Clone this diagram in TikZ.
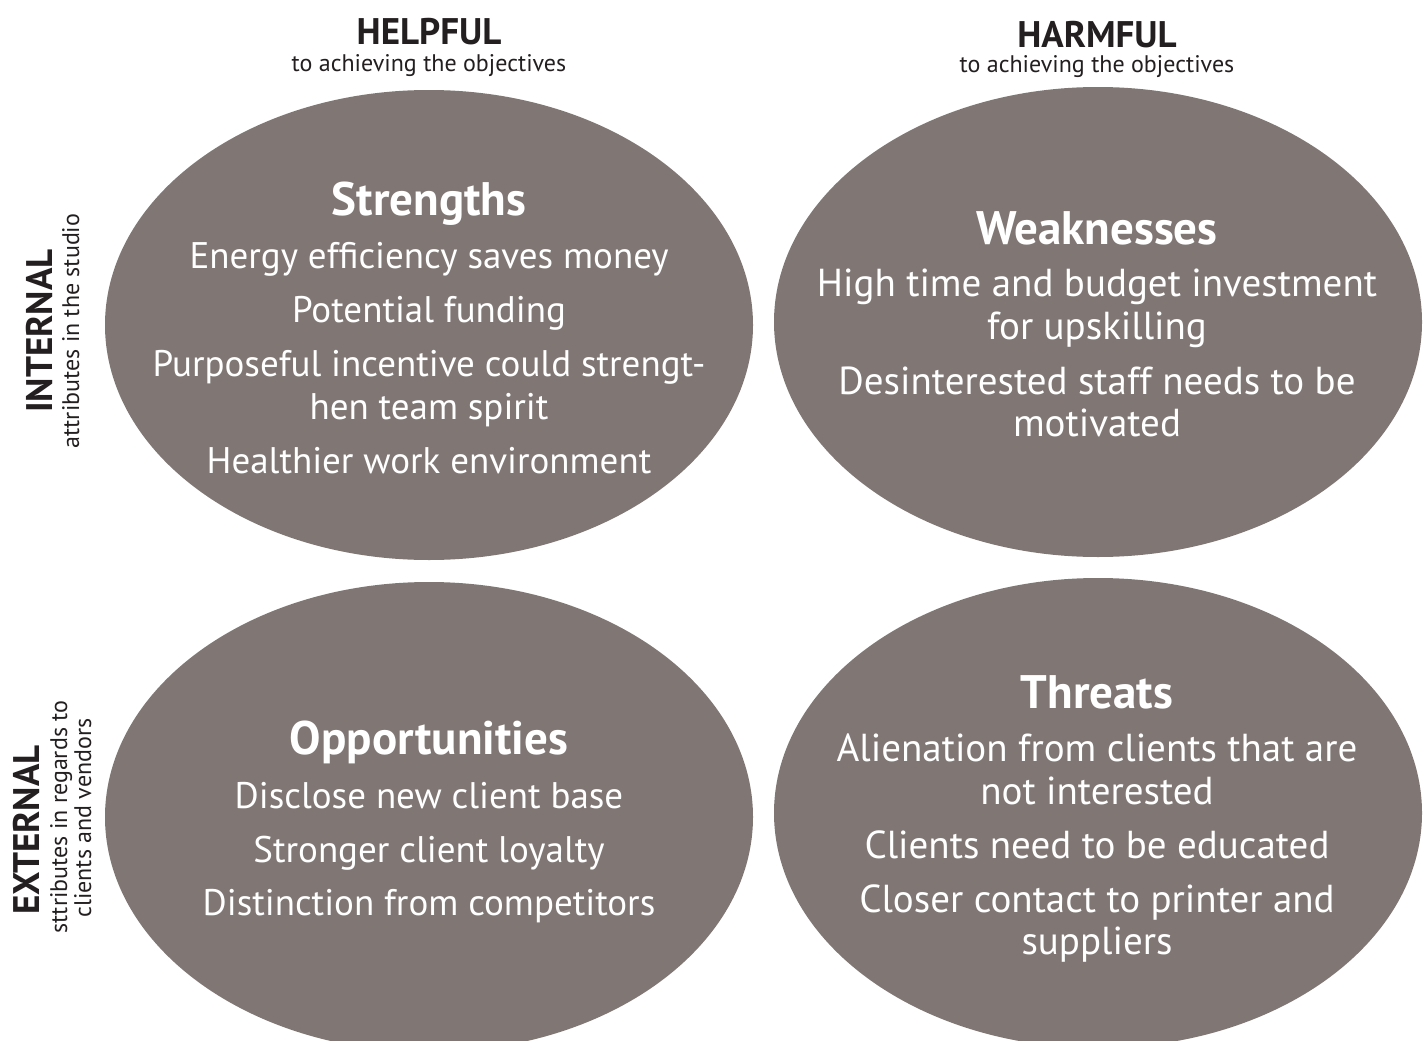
\documentclass[tikz,border=0pt]{standalone}
\usepackage{fontspec}
\setmainfont{PT Sans}
\usetikzlibrary{shapes.geometric}
\definecolor{swotfill}{RGB}{128,119,116}
\definecolor{ink}{RGB}{35,31,32}
\tikzset{
  quad/.style={ellipse, fill=swotfill, draw=none, inner sep=0pt,
    minimum width=648pt, minimum height=470pt},
  qtitle/.style={anchor=base, text=white, inner sep=0pt,
    font=\fontsize{47}{56}\selectfont\bfseries},
  qline/.style={anchor=base, text=white, inner sep=0pt,
    font=\fontsize{37}{43}\selectfont},
  qlinewide/.style={anchor=base, text=white, inner sep=0pt,
    font=\fontsize{39}{43}\selectfont},
  headbig/.style={anchor=base, text=ink, inner sep=0pt,
    font=\fontsize{37}{44}\selectfont\bfseries},
  headsmall/.style={anchor=base, text=ink, inner sep=0pt,
    font=\fontsize{24}{28}\selectfont},
}
\begin{document}
\begin{tikzpicture}[x=1pt,y=-1pt]
\useasboundingbox (0,0) rectangle (1427,1041);
\clip (0,0) rectangle (1427,1041);

% the four quadrants
\node[quad] (S) at (429,325) {};
\node[quad] (W) at (1098,322) {};
\node[quad] (O) at (429,817) {};
\node[quad] (T) at (1098,813) {};

% column headings
\node[headbig]   (helpful)  at (429,45) {HELPFUL};
\node[headsmall] (helpfulS) at (429,72) {to achieving the objectives};
\node[headbig]   (harmful)  at (1097,48) {HARMFUL};
\node[headsmall] (harmfulS) at (1097,73) {to achieving the objectives};

% row headings
\node[headbig, rotate=90]   (internal)  at (52,331) {INTERNAL};
\node[headsmall, rotate=90] (internalS) at (79,331) {attributes in the studio};
\node[headbig, rotate=90]   (external)  at (39,830) {EXTERNAL};
\node[headsmall, rotate=90] (externalS) at (67,817) {sttributes in regards to};
\node[headsmall, rotate=90] (externalT) at (91,818) {clients and vendors};

% strengths
\node[qtitle] (s0) at (429,215) {Strengths};
\node[qline] (s1) at (429,268) {Energy efficiency saves money};
\node[qline] (s2) at (429,322) {Potential funding};
\node[qline] (s3) at (429,376) {Purposeful incentive could strengt-};
\node[qline] (s4) at (429,419) {hen team spirit};
\node[qline] (s5) at (429,473) {Healthier work environment};

% weaknesses
\node[qtitle] (w0) at (1097,244) {Weaknesses};
\node[qlinewide] (w1) at (1097,296) {High time and budget investment};
\node[qlinewide] (w2) at (1097,339) {for upskilling};
\node[qlinewide] (w3) at (1097,394) {Desinterested staff needs to be};
\node[qlinewide] (w4) at (1097,436) {motivated};

% opportunities
\node[qtitle] (o0) at (429,754) {Opportunities};
\node[qline] (o1) at (429,808) {Disclose new client base};
\node[qline] (o2) at (429,862) {Stronger client loyalty};
\node[qline] (o3) at (429,915) {Distinction from competitors};

% threats
\node[qtitle] (t0) at (1097,708) {Threats};
\node[qlinewide] (t1) at (1097,761) {Alienation from clients that are};
\node[qlinewide] (t2) at (1097,804) {not interested};
\node[qlinewide] (t3) at (1097,858) {Clients need to be educated};
\node[qlinewide] (t4) at (1097,912) {Closer contact to printer and};
\node[qlinewide] (t5) at (1097,954) {suppliers};
\end{tikzpicture}
\end{document}
